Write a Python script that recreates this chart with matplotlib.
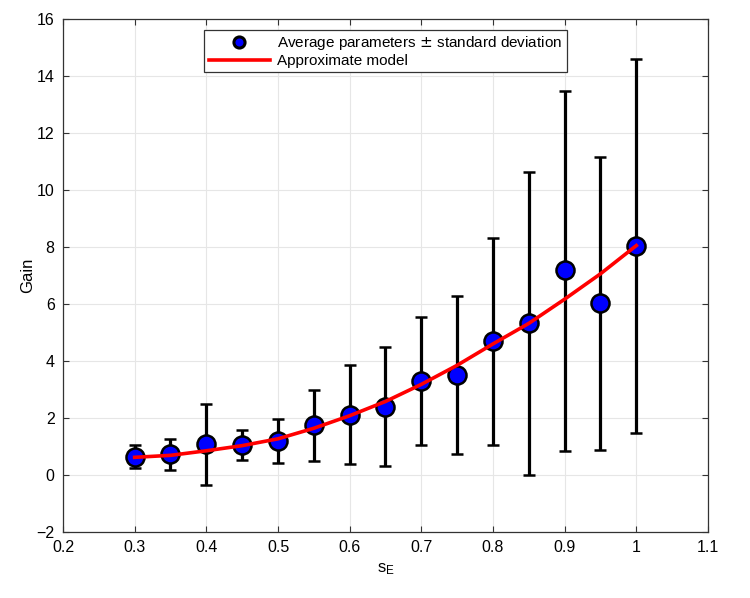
import numpy as np
import matplotlib.pyplot as plt
from matplotlib.lines import Line2D

plt.rcParams['font.family'] = ['Liberation Sans', 'DejaVu Sans']

# data
s_e = [0.30, 0.35, 0.40, 0.45, 0.50, 0.55, 0.60, 0.65, 0.70, 0.75, 0.80, 0.85, 0.90, 0.95, 1.00]
gain_mean = [0.64, 0.73, 1.10, 1.07, 1.18, 1.75, 2.11, 2.40, 3.30, 3.50, 4.70, 5.32, 7.18, 6.05, 8.05]
gain_upper = [1.06, 1.25, 2.50, 1.59, 1.97, 3.00, 3.85, 4.48, 5.53, 6.28, 8.33, 10.62, 13.48, 11.15, 14.59]
gain_lower = [0.24, 0.18, -0.36, 0.54, 0.42, 0.48, 0.39, 0.31, 1.06, 0.75, 1.06, 0.00, 0.85, 0.88, 1.49]

# approximate model, sampled at the same s_E values
model = [0.62, 0.69, 0.85, 1.03, 1.27, 1.64, 2.08, 2.58, 3.18, 3.85, 4.60, 5.32, 6.17, 7.06, 8.05]

fig = plt.figure(figsize=(7.5, 5.98), dpi=100)
ax = fig.add_axes([63 / 750, 1 - 532 / 598, (708 - 63) / 750, (532 - 19) / 598])

mean = np.array(gain_mean)
yerr = [mean - np.array(gain_lower), np.array(gain_upper) - mean]

ax.errorbar(s_e, gain_mean, yerr=yerr, fmt='o', color='black', ecolor='black',
            elinewidth=2.3, capsize=4.5, capthick=2.3,
            marker='o', markersize=13, markerfacecolor='blue',
            markeredgecolor='black', markeredgewidth=1.8, zorder=3)
ax.plot(s_e, model, color='red', linewidth=2.6, zorder=4)

ax.set_xlim(0.2, 1.1)
ax.set_ylim(-2, 16)
ax.set_xticks(np.arange(0.2, 1.101, 0.1))
ax.set_xticklabels(['0.2', '0.3', '0.4', '0.5', '0.6', '0.7', '0.8', '0.9', '1', '1.1'])
ax.set_yticks(np.arange(-2, 17, 2))
ax.set_yticklabels(['\u22122'] + [str(v) for v in range(0, 17, 2)])

ax.grid(True, color='#e6e6e6', linewidth=0.8)
ax.set_axisbelow(True)
ax.tick_params(direction='in', top=True, right=True, labelsize=11.5, length=4,
               color='#333333', pad=6)
for sp in ax.spines.values():
    sp.set_color('#333333')
    sp.set_linewidth(0.9)

ax.set_xlabel('$\\mathregular{s_E}$', fontsize=12)
ax.set_ylabel('Gain', fontsize=12, labelpad=1)

handles = [
    Line2D([], [], linestyle='none', marker='o', markersize=8,
           markerfacecolor='blue', markeredgecolor='black', markeredgewidth=2.2),
    Line2D([], [], color='red', linewidth=2.6),
]
labels = ['Average parameters $\\pm$ standard deviation', 'Approximate model']
leg = ax.legend(handles, labels, loc='upper center', bbox_to_anchor=(0.5, 0.985),
                fontsize=11, fancybox=False, edgecolor='#333333', framealpha=1,
                handlelength=4.0, handletextpad=0.5, borderpad=0.3,
                labelspacing=0.1, borderaxespad=0.2)
leg.get_frame().set_linewidth(0.9)

fig.savefig('out.png', dpi=100)
